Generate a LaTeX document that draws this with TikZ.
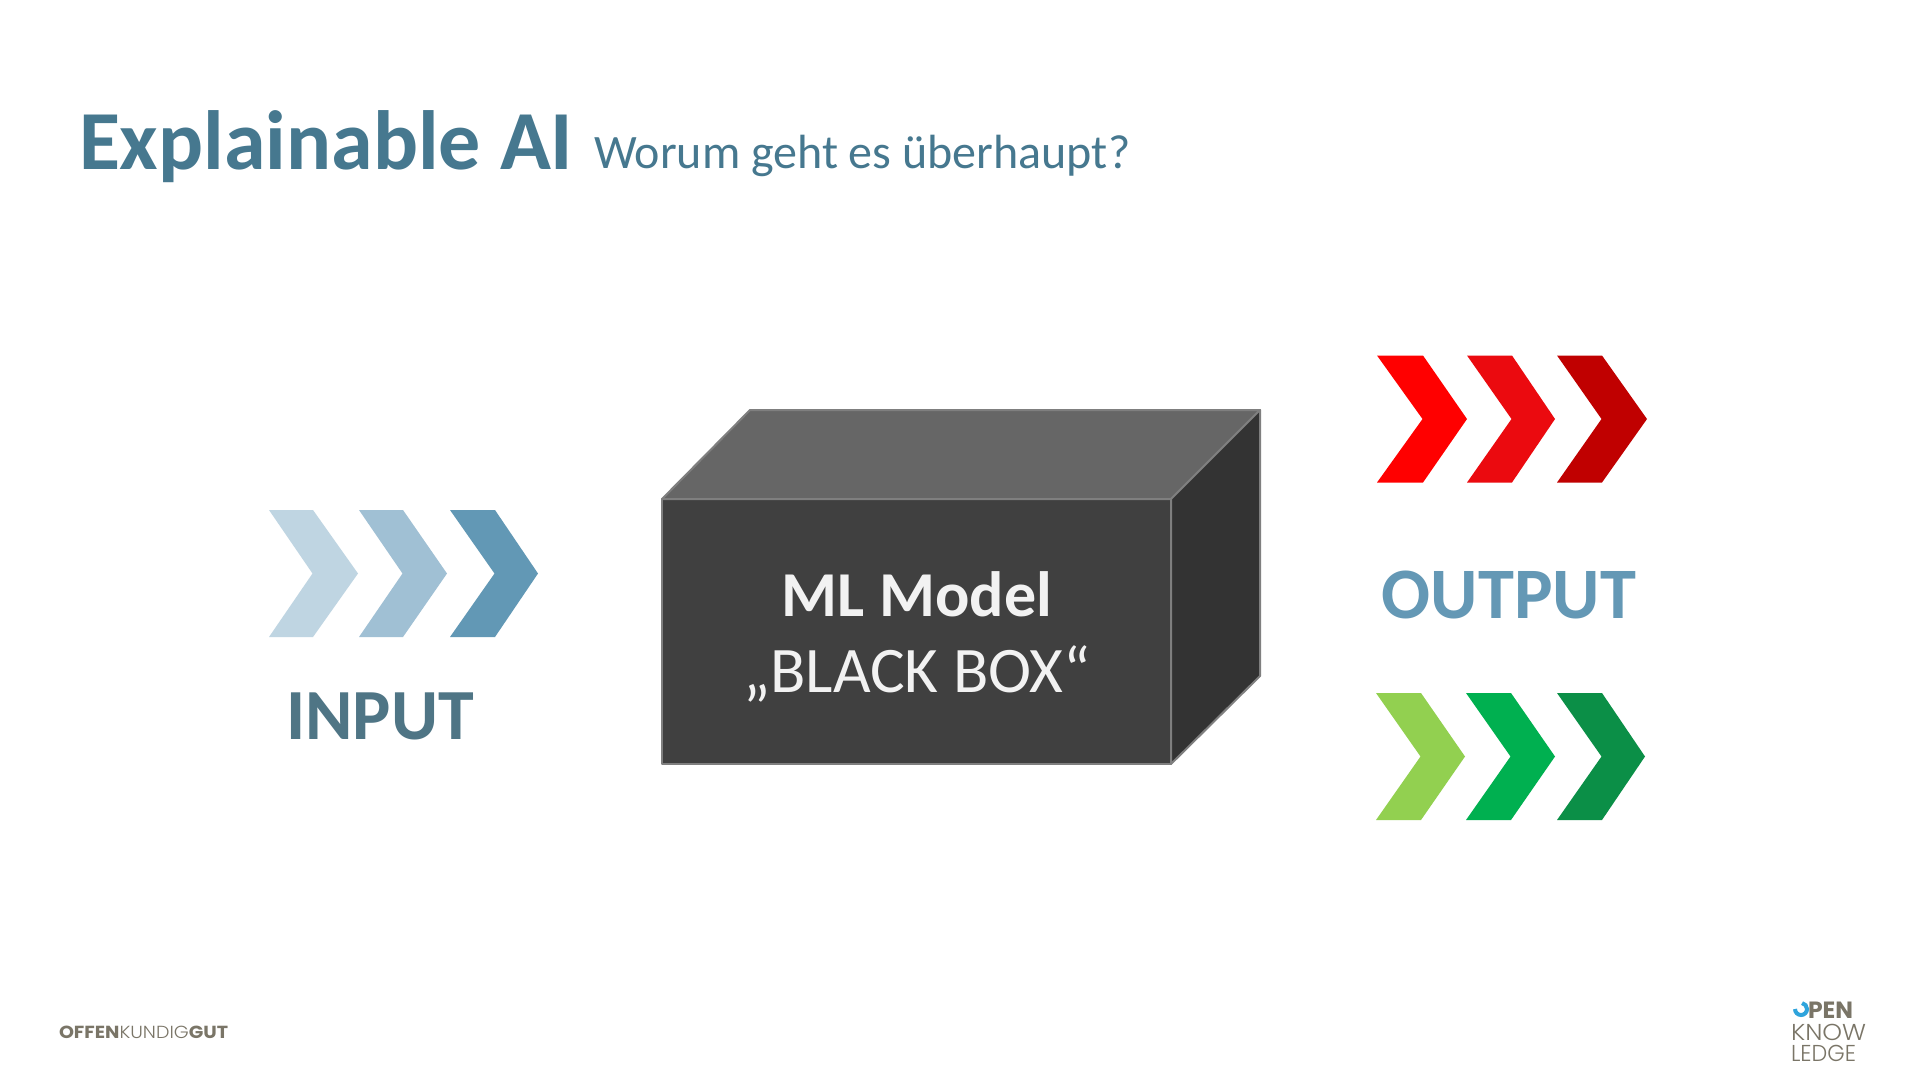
\documentclass[tikz,border=0pt]{standalone}
\usepackage{graphicx}
\usepackage{fontspec}
\setmainfont{Carlito}
\newfontfamily\logobold{Poppins}[UprightFont=* Bold]
\newfontfamily\logolight{Poppins}[UprightFont=* Light]
\definecolor{titleblue}{HTML}{46788F}
\definecolor{inblue}{HTML}{4F7585}
\definecolor{outblue}{HTML}{6498B5}
\definecolor{logogrey}{HTML}{7A7567}
\definecolor{logoblue}{HTML}{2FA4DC}
\definecolor{ina}{HTML}{BFD5E2}
\definecolor{inb}{HTML}{A0C0D4}
\definecolor{inc}{HTML}{6298B5}
\definecolor{reda}{HTML}{FF0000}
\definecolor{redb}{HTML}{EB0A0F}
\definecolor{redc}{HTML}{C00000}
\definecolor{grna}{HTML}{92D050}
\definecolor{grnb}{HTML}{00B050}
\definecolor{grnc}{HTML}{0B8F47}
\definecolor{boxfront}{HTML}{404040}
\definecolor{boxtop}{HTML}{666666}
\definecolor{boxside}{HTML}{333333}
\definecolor{boxline}{HTML}{7F7F7F}
\definecolor{boxtext}{HTML}{F2F2F2}
\tikzset{
  lbl/.style={anchor=base,inner sep=0pt,outer sep=0pt},
  lbll/.style={anchor=base west,inner sep=0pt,outer sep=0pt},
  boxface/.style={draw=boxline,line width=2pt,line join=round},
}
\newcommand{\chevronshape}[5]{%
  \fill[#5] (#1,#4-63.5) -- (#2,#4-63.5) -- (#3,#4) -- (#2,#4+63.5) -- (#1,#4+63.5) -- (#2-0.5,#4) -- cycle;}
\begin{document}
\begin{tikzpicture}[x=1pt,y=-1pt]
\useasboundingbox[fill=white] (0,0) rectangle (1920,1080);
\node[lbll,text=titleblue,font=\fontsize{84}{94}\selectfont\bfseries] (title) at (79,169) {Explainable AI};
\node[lbll,text=titleblue,font=\fontsize{48}{58}\selectfont] (subtitle) at (594,168.5) {Worum geht es überhaupt?};
% input
\chevronshape{269}{313}{358}{573.5}{ina}
\chevronshape{359}{403}{447}{573.5}{inb}
\chevronshape{450}{495}{538}{573.5}{inc}
\node[lbl,text=inblue,font=\fontsize{72}{80}\selectfont\bfseries] (input) at (380,739) {INPUT};
% box
\filldraw[boxface,fill=boxfront] (662,499) rectangle (1171,764);
\filldraw[boxface,fill=boxtop] (662,499) -- (750,410) -- (1260,410) -- (1171,499) -- cycle;
\filldraw[boxface,fill=boxside] (1171,499) -- (1260,410) -- (1260,676) -- (1171,764) -- cycle;
\node[lbl,text=boxtext,font=\fontsize{64}{70}\selectfont\bfseries] (model) at (917,616) {ML Model};
\node[lbl,text=boxtext,font=\fontsize{65}{70}\selectfont] (blackbox) at (917,692) {„BLACK BOX“};
% output
\chevronshape{1377}{1423}{1467}{419}{reda}
\chevronshape{1467}{1512}{1555}{419}{redb}
\chevronshape{1557}{1602}{1647}{419}{redc}
\node[lbl,text=outblue,font=\fontsize{72.5}{80}\selectfont\bfseries] (output) at (1509,618) {OUTPUT};
\chevronshape{1376}{1421}{1465}{756.5}{grna}
\chevronshape{1466}{1511}{1555}{756.5}{grnb}
\chevronshape{1557}{1602}{1645}{756.5}{grnc}
% logos
\node[lbll,text=logogrey,font=\fontsize{17.5}{20}\selectfont] (offen) at (59,1038) {\scalebox{1.09}[1]{{\logobold OFFEN}{\logolight KUNDIG}{\logobold GUT}}};
\draw[logoblue,line width=4pt] (1795,1009) arc[start angle=180,end angle=440,radius=6pt];
\node[lbll,text=logogrey,font=\fontsize{23.5}{24}\selectfont\logobold] (open) at (1808,1018) {PEN};
\node[lbll,text=logogrey,font=\fontsize{23}{24}\selectfont\logolight] (know) at (1791,1040) {\scalebox{1.09}[1]{KNOW}};
\node[lbll,text=logogrey,font=\fontsize{23}{24}\selectfont\logolight] (ledge) at (1791,1061) {\scalebox{0.97}[1]{LEDGE}};
\end{tikzpicture}
\end{document}
